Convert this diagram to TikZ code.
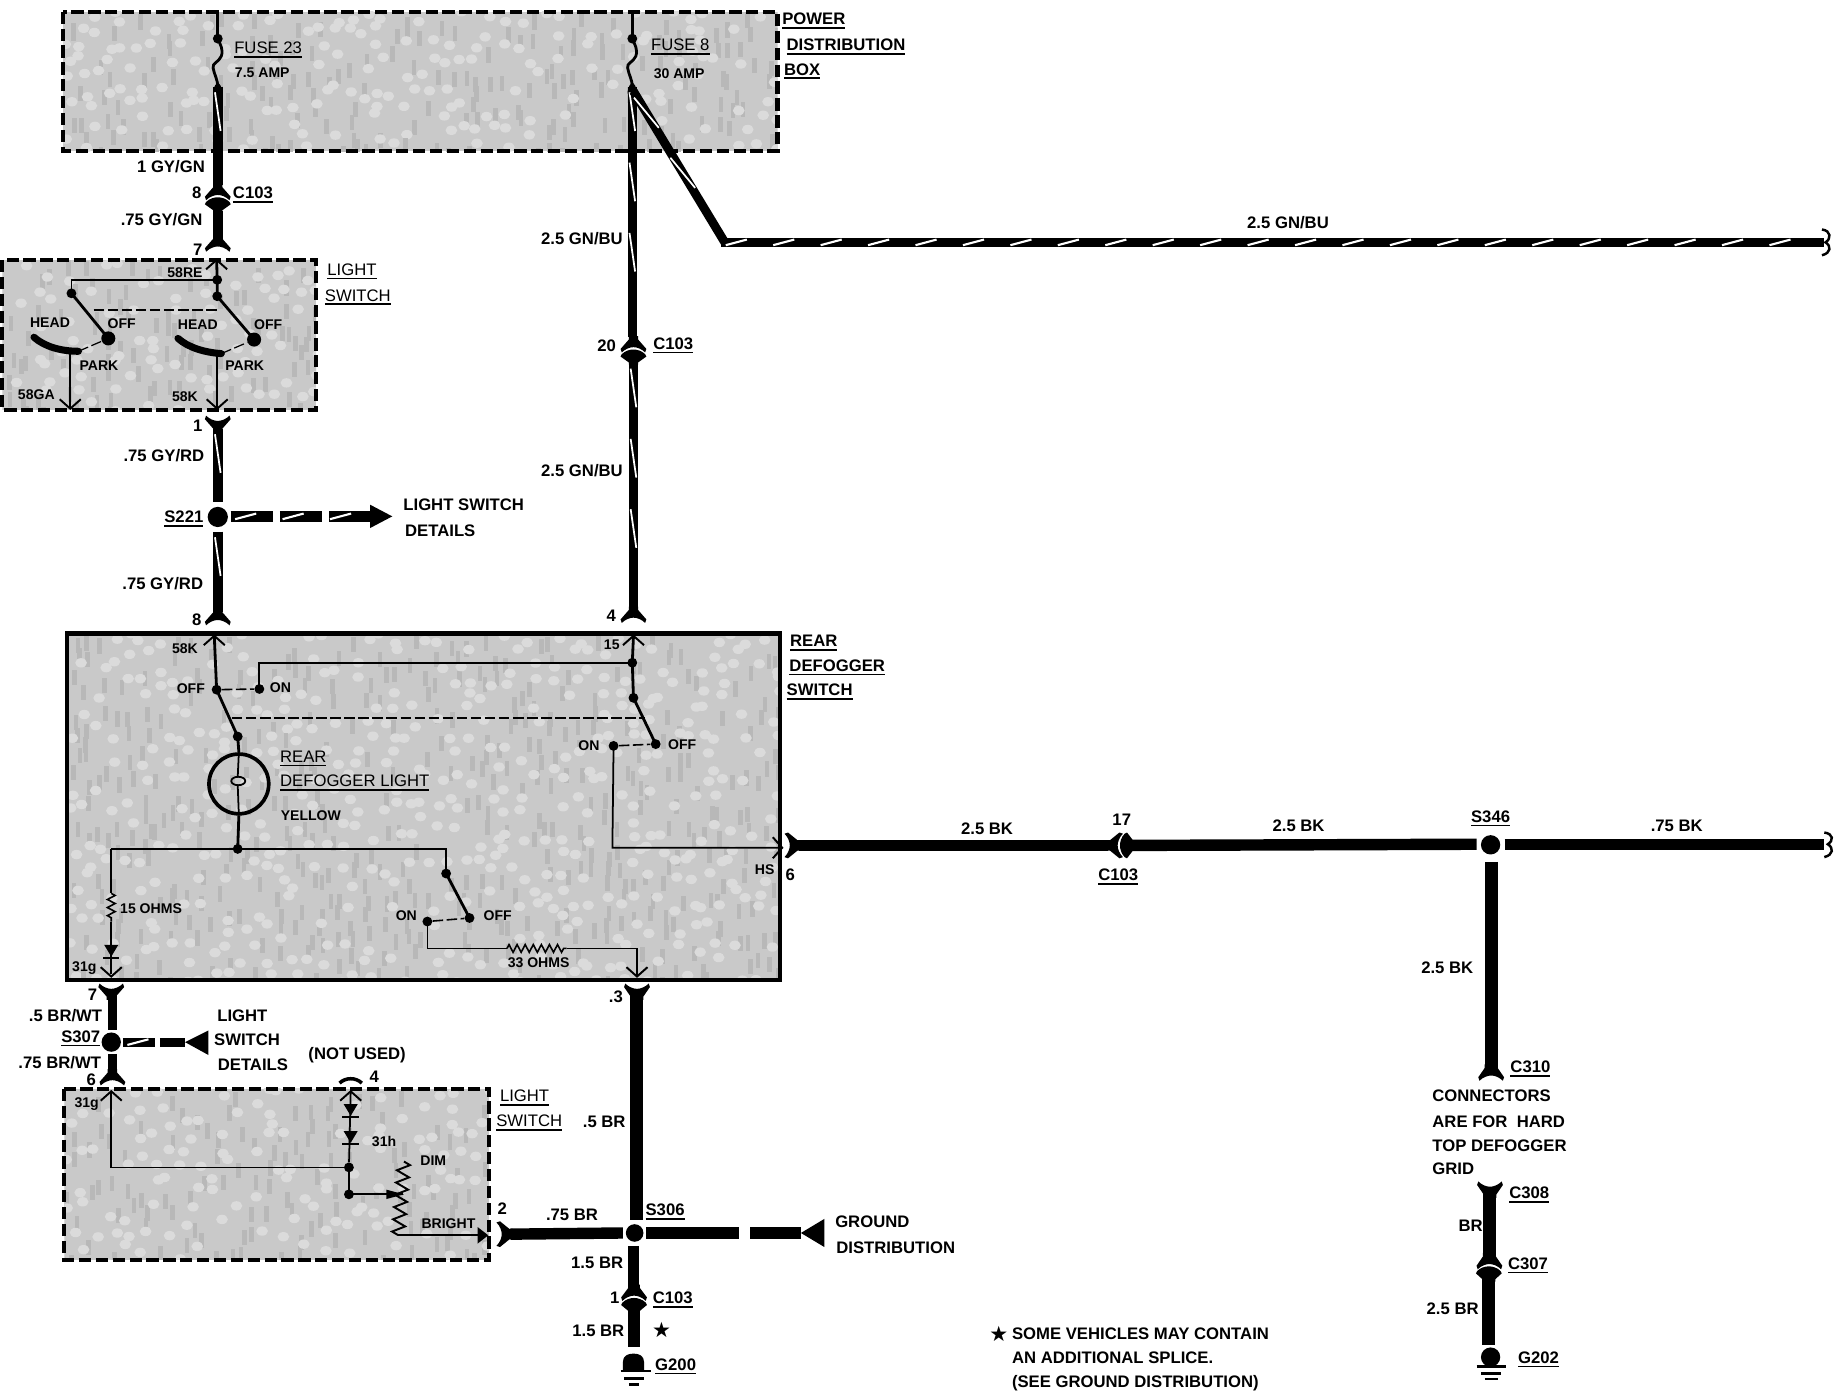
\documentclass[tikz,border=0pt]{standalone}
\usepackage{fontspec}
\setmainfont{Liberation Sans}
\newfontfamily\symfont{DejaVu Sans}
\usetikzlibrary{decorations.markings,decorations.pathmorphing}
\tikzset{
  lab/.style={inner sep=0pt,anchor=center,text height=6.8pt,text depth=0pt,font=\bfseries\fontsize{9.5}{11}\selectfont},
  slab/.style={inner sep=0pt,anchor=center,text height=5.7pt,text depth=0pt,font=\fontsize{8}{10}\selectfont\bfseries},
  wire/.style={line width=5.4pt},
  wirebk/.style={line width=6.5pt},
  tr/.style={postaction=decorate,decoration={markings,mark=between positions 0.5cm and -0.3cm step 40pt with {\draw[white,line width=1pt] (-11pt,-1.6pt)--(11pt,1.6pt);}}},
  trh/.style={postaction=decorate,decoration={markings,mark=between positions 0.3cm and -0.2cm step 27pt with {\draw[white,line width=1.2pt] (-6pt,-1.6pt)--(6pt,1.6pt);}}},
  thinw/.style={line width=1pt},
  medw/.style={line width=1.6pt},
  dlink/.style={line width=.9pt,dash pattern=on 6pt off 2pt},
  boxd/.style={line width=2.3pt,dash pattern=on 7pt off 2.6pt},
  dot/.style={circle,fill=black,inner sep=0pt,minimum size=5.6pt},
  splice/.style={circle,fill=black,inner sep=0pt,minimum size=11.5pt},
  res/.style={line width=.9pt,decorate,decoration={zigzag,amplitude=2.2pt,segment length=4.6pt}},
  pics/flare/.style={code={\fill (-#1,-12) -- (-#1,-9) -- (-11,-1) -- (-10,2) .. controls (-7,-1) and (-3,-2.5) .. (0,-2.5) .. controls (3,-2.5) and (7,-1) .. (10,2) -- (11,-1) -- (#1,-9) -- (#1,-12) -- cycle;}},
  pics/dome/.style={code={\fill (-#1,13) -- (-#1,11) -- (-11,6) -- (-10,4) .. controls (-7,1) and (-3,0) .. (0,0) .. controls (3,0) and (7,1) .. (10,4) -- (11,6) -- (#1,11) -- (#1,13) -- cycle;}},
  pics/chev/.style={code={\draw[line width=1.1pt] (-9,8)--(0,0)--(9,8);}},
  pics/diode/.style={code={\fill (-6,0)--(6,0)--(0,10)--cycle;\draw[line width=1.3pt] (-7,11)--(7,11);}}
}
\newcommand\lab[5][]{\node[lab,#1] (#2) at (#3,#4) {#5};}
\newcommand\slb[5][]{\node[slab,#1] (#2) at (#3,#4) {#5};}
\newcommand\ulin[1]{\vtop{\hbox{#1}\kern1.3pt\hrule height 1pt}}
% shaded ground: x1 y1 x2 y2 seed
\newcommand\texturebox[5]{%
  \begin{scope}
  \clip (#1,#2) rectangle (#3,#4);
  \fill[gray!42] (#1,#2) rectangle (#3,#4);
  \pgfmathsetseed{#5}
  \pgfmathtruncatemacro\nx{(#3-#1)/12}
  \pgfmathtruncatemacro\ny{(#4-#2)/12}
  \foreach \ix in {0,...,\nx}{\foreach \iy in {0,...,\ny}{
    \pgfmathsetmacro\hx{#1+12*\ix+rnd*10}\pgfmathsetmacro\hy{#2+12*\iy+rnd*10}\pgfmathsetmacro\hk{rnd}
    \ifdim\hk pt<0.35pt \fill[gray!28] (\hx,\hy) ellipse (5 and 4);\else\ifdim\hk pt<0.7pt \fill[gray!56] (\hx,\hy) rectangle +(4,13);\fi\fi
  }}
  \end{scope}}
\begin{document}
\begin{tikzpicture}[x=0.023418cm,y=-0.023418cm,line join=miter]
\useasboundingbox[fill=white] (0,0) rectangle (1568,1189);
% ---- shaded boxes
\texturebox{54}{10}{664}{129}{11}
\texturebox{2}{222}{270}{350}{23}
\texturebox{57}{541}{666}{837}{37}
\texturebox{55}{930}{418}{1076}{41}
\draw[boxd] (54,10) rectangle (664,129);
\draw[boxd] (2,222) rectangle (270,350);
\draw[line width=2.5pt] (57,541) rectangle (666,837);
\draw[boxd] (55,930) rectangle (418,1076);

% ---- fuses
\coordinate (f23t) at (186,10); \node[dot] (f23a) at (186,33) {};
\coordinate (f23b) at (186,74);
\draw[medw] (f23t) -- (f23a.center);
\draw[medw] (f23a.center) .. controls (188,38) and (191,42) .. (189,48) .. controls (187,53) and (181,54) .. (182,58) .. controls (183,64) and (186,68) .. (f23b);
\coordinate (f8t) at (540,10); \node[dot] (f8a) at (540,33) {};
\coordinate (f8b) at (540,74);
\draw[medw] (f8t) -- (f8a.center);
\draw[medw] (f8a.center) .. controls (542,38) and (545,42) .. (543,48) .. controls (541,53) and (535,54) .. (536,58) .. controls (537,64) and (540,68) .. (f8b);

% ---- GY wire, top
\coordinate (w1a) at (186,74); \coordinate (w1b) at (186,158);
\fill (186,70) .. controls (190,74) and (190,78) .. (190,80) -- (182,80) .. controls (182,78) and (182,74) .. (186,70) -- cycle;
\draw[wire,tr] (w1a) -- (w1b);
\pic at (186,169) {flare=4};
\pic at (186,168.5) {dome=4};
\coordinate (w2a) at (186,180); \coordinate (w2b) at (186,204);
\draw[wire,tr] (w2a) -- (w2b);
\pic at (186,213) {flare=4};
% ---- light switch internals
\pic at (185,222) {chev};
\node[dot] (ls1) at (185.5,239) {};
\node[dot] (ls2) at (185.5,253) {};
\node[dot] (ls3) at (61,250.5) {};
\node[dot,minimum size=8pt] (ls4) at (92.5,289) {};
\node[dot,minimum size=8pt] (ls5) at (217,290) {};
\coordinate (lsa) at (185,222); \coordinate (lsc) at (61,239);
\draw[medw] (lsa) -- (ls1.center) -- (ls2.center);
\draw[thinw] (ls1.center) -- (lsc) -- (ls3.center);
\draw[medw] (ls3.center) -- (ls4.center);
\draw[medw] (ls2.center) -- (ls5.center);
\coordinate (lk1) at (80,265); \coordinate (lk2) at (188,265);
\draw[dlink] (lk1) -- (lk2);
\coordinate (hd1) at (29,288); \coordinate (hd2) at (67,300);
\coordinate (hd3) at (152,289); \coordinate (hd4) at (189,302);
\draw[line width=4pt,line cap=round] (hd1) .. controls (38,296) and (52,300) .. (hd2);
\draw[line width=4pt,line cap=round] (hd3) .. controls (161,297) and (175,301) .. (hd4);
\draw[dlink,line width=.7pt] (hd2) -- (ls4);
\draw[dlink,line width=.7pt] (hd4) -- (ls5);
\coordinate (ls58ga) at (60,349); \coordinate (ls58k) at (185.5,349);
\draw[thinw] (60,300) -- (ls58ga);
\draw[thinw] (185.5,300) -- (ls58k);
\pic[rotate=180] at (60,349) {chev};
\pic[rotate=180] at (185.5,349) {chev};
% ---- GY/RD
\pic[rotate=180] at (186,357) {flare=4};
\node[splice] (s221) at (186,441.5) {};
\coordinate (c1t) at (186,366); \coordinate (c1b) at (186,429);
\draw[wire,tr] (c1t) -- (c1b);
\coordinate (c8t) at (186,454); \coordinate (c8b) at (186,523);
\draw[wire,tr] (c8t) -- (c8b);
\pic at (186,532) {flare=4};
\coordinate (ads) at (197,441); \coordinate (adt) at (316,441);
\draw[line width=6.4pt,dash pattern=on 24pt off 4pt,trh] (ads) -- (adt);
\fill (335,441) -- (316,431) -- (316,451) -- cycle;
% ---- GN/BU main
\coordinate (gb0) at (540,74); \coordinate (gb1) at (540,288);
\fill (540,70) .. controls (544,74) and (544,78) .. (544,80) -- (536,80) .. controls (536,78) and (536,74) .. (540,70) -- cycle;
\draw[wire,tr] (gb0) -- (gb1);
\pic at (541,299) {flare=4};
\pic at (541,298.5) {dome=4};
\coordinate (gb2) at (541,310); \coordinate (gb3) at (541,520);
\draw[wire,tr] (gb2) -- (gb3);
\pic at (541,530) {flare=4};
\coordinate (gbd) at (541,78); \coordinate (gbc) at (619,207); \coordinate (gbe) at (1558,207);
\draw[line width=5pt,tr] (gbd) -- (gbc);
\draw[line width=5.2pt,trh] (616,207) -- (gbe);
\draw[line width=1.4pt] (1556,196) .. controls (1564,197) and (1564,204) .. (1559,207) .. controls (1564,210) and (1564,216) .. (1556,218);
% ---- rear defogger internals
\pic at (183,543) {chev};
\node[dot] (rd1) at (185,589) {};
\node[dot] (rd2) at (203,629) {};
\node[dot] (rd3) at (221.5,588.4) {};
\node[dot] (rd4) at (540,566) {};
\node[dot] (rd5) at (541,596) {};
\node[dot] (rd6) at (560,635.5) {};
\node[dot] (rd7) at (524,637) {};
\node[dot] (rd8) at (203,725) {};
\node[dot] (rd9) at (381,746) {};
\node[dot] (rd10) at (401,784) {};
\node[dot] (rd11) at (365,787) {};
\coordinate (rdt) at (183,543); \coordinate (rdt2) at (541,543);
\draw[medw] (rdt) -- (rd1.center) -- (rd2.center);
\draw[dlink] (rd1) -- (rd3);
\coordinate (rdc) at (221.5,566);
\draw[thinw] (rd3.center) -- (rdc) -- (rd4.center);
\pic at (541,543) {chev};
\draw[medw] (rdt2) -- (rd4.center) -- (rd5.center) -- (rd6.center);
\draw[dlink] (rd7) -- (rd6);
\coordinate (rdl1) at (198,613); \coordinate (rdl2) at (551,613);
\draw[dlink] (rdl1) -- (rdl2);
\coordinate (hsc) at (523,724); \coordinate (hse) at (668,724);
\draw[thinw] (rd7.center) -- (hsc) -- (hse);
\pic[rotate=-90] at (668,724) {chev};
% lamp
\node[circle,draw,line width=2.1pt,minimum size=34pt,inner sep=0pt] (lamp) at (204,669.5) {};
\draw[medw] (rd2.center) -- (lamp.north);
\draw[medw] (lamp.south) -- (rd8.center);
\draw[thinw] (lamp.north) -- (203,664);
\draw[thinw] (203.5,667) ellipse (6 and 3.6);
\draw[thinw] (203,670) -- (lamp.south);
% lower left in box
\coordinate (rl) at (95,725); \coordinate (rs) at (381,725);
\draw[thinw] (rd8.center) -- (rl);
\draw[thinw] (rd8.center) -- (rs) -- (rd9.center);
\draw[medw] (rd9.center) -- (rd10.center);
\draw[dlink] (rd11) -- (rd10);
\coordinate (r1a) at (95,763); \coordinate (r1b) at (95,787); \coordinate (r1c) at (95,832);
\draw[thinw] (rl) -- (r1a);
\draw[res] (r1a) -- (r1b);
\draw[thinw] (r1b) -- (r1c);
\pic at (95,807) {diode};
\pic[rotate=180] at (95,834) {chev};
\coordinate (r2a) at (365,810); \coordinate (r2b) at (433,810); \coordinate (r2c) at (484,810); \coordinate (r2d) at (544,810); \coordinate (r2e) at (544,834);
\draw[thinw] (rd11.center) -- (r2a) -- (r2b);
\draw[res] (r2b) -- (r2c);
\draw[thinw] (r2c) -- (r2d) -- (r2e);
\pic[rotate=180] at (544,834) {chev};
% ---- right side BK
\pic[rotate=-90] at (672,722) {flare=4.5};
\coordinate (bk1) at (682,722); \coordinate (bk2) at (946,722);
\draw[wirebk] (bk1) -- (bk2);
\pic[rotate=90] at (957,722) {flare=4.5};
\pic[rotate=90] at (956.5,722) {dome=4.5};
\node[splice,minimum size=11pt] (s346) at (1273,721.5) {};
\coordinate (bk3) at (967,722); \coordinate (bk4) at (1261,721);
\draw[wirebk] (bk3) -- (bk4);
\coordinate (bk5) at (1285,721); \coordinate (bke) at (1558,721);
\draw[wirebk] (bk5) -- (bke);
\draw[line width=1.4pt] (1558,711) .. controls (1566,712) and (1566,718) .. (1561,721) .. controls (1566,724) and (1566,730) .. (1558,732);
\coordinate (c310t) at (1273.5,736); \coordinate (c310) at (1273.5,912);
\draw[line width=7.4pt] (c310t) -- (c310);
\pic at (1273.5,921) {flare=5.5};
\pic[rotate=180] at (1272.5,1011) {flare=5.5};
\coordinate (c308) at (1272,1018); \coordinate (c307) at (1272,1071);
\draw[line width=7.4pt] (c308) -- (c307);
\pic at (1272,1082) {flare=5.5};
\pic at (1271.5,1081.5) {dome=5.5};
\coordinate (c307b) at (1271.5,1092); \coordinate (g202c) at (1271.5,1149);
\draw[line width=7.4pt] (c307b) -- (g202c);
\node[circle,fill=black,inner sep=0pt,minimum size=11pt] (g202) at (1273,1159) {};
\draw[line width=1.3pt] (1261,1167) -- (1286,1167) (1265,1173) -- (1282,1173) (1268,1178) -- (1279,1178);
% ---- BR/WT
\pic[rotate=180] at (95,842) {flare=4};
\node[splice,minimum size=11pt] (s307) at (95,890) {};
\coordinate (bw1) at (96,850); \coordinate (bw1b) at (96,880);
\draw[line width=5.4pt,tr] (bw1) -- (bw1b);
\coordinate (bw2a) at (96,900); \coordinate (bw2) at (96,917);
\draw[line width=5.4pt,tr] (bw2a) -- (bw2);
\pic at (96,925) {flare=4};
\coordinate (bw0) at (105,890); \coordinate (bw3) at (158,890);
\draw[line width=5.2pt,dash pattern=on 18pt off 3pt,trh] (bw0) -- (bw3);
\fill (158,890) -- (178,880) -- (178,901) -- cycle;
% ---- light switch lower
\pic at (95,932) {chev};
\coordinate (l2t) at (95,932); \coordinate (l2c) at (95,997);
\node[dot] (l2d) at (298,997) {};
\node[dot] (l2e) at (298,1020) {};
\draw[thinw] (l2t) -- (l2c) -- (l2d.center) -- (l2e.center);
\draw[line width=2pt] (290,925) .. controls (295,920) and (304,920) .. (309,925);
\pic at (299.5,932) {chev};
\coordinate (l3t) at (299.5,932);
\draw[thinw] (l3t) -- (l2d);
\pic at (299.5,943) {diode};
\pic at (299.5,966) {diode};
\coordinate (l4r) at (344,1020);
\draw[thinw] (l2e.center) -- (l4r);
\fill (345,1020) -- (330,1016) -- (330,1024) -- cycle;
\coordinate (r3a) at (345,992); \coordinate (r3b) at (340,1055);
\draw[res,line width=1.1pt,decoration={zigzag,amplitude=3.6pt,segment length=7pt}] (r3a) -- (r3b);
\coordinate (l5e) at (411,1055);
\draw[thinw] (r3b) -- (l5e);
\fill (417,1055) -- (408,1048) -- (408,1062) -- cycle;
% ---- BR
\pic[rotate=-90] at (426,1054) {flare=4.5};
\node[splice,minimum size=10pt] (s306) at (542,1053) {};
\coordinate (br1) at (436,1054); \coordinate (br1b) at (532,1053);
\draw[wirebk] (br1) -- (br1b);
\pic[rotate=180] at (544,842) {flare=5.5};
\coordinate (br3) at (544,850); \coordinate (br3b) at (544,1042);
\draw[line width=7.4pt] (br3) -- (br3b);
\coordinate (gd0) at (552,1053); \coordinate (gd1) at (684,1053);
\draw[wirebk,dash pattern=on 53pt off 6pt] (gd0) -- (gd1);
\fill (684,1053) -- (704,1041) -- (704,1065) -- cycle;
\coordinate (br4a) at (541,1064); \coordinate (br4) at (541,1097);
\draw[line width=6.6pt] (br4a) -- (br4);
\pic at (541.5,1109) {flare=5};
\pic at (541.5,1108.5) {dome=5};
\coordinate (br5) at (541.5,1120); \coordinate (g200c) at (541.5,1150);
\draw[line width=6.6pt] (br5) -- (g200c);
\node[inner sep=0pt] (g200) at (541,1163) {};
\fill (532,1170) -- (532,1163) .. controls (532,1158) and (536,1156) .. (541,1156) .. controls (546,1156) and (550,1158) .. (550,1163) -- (550,1170) -- cycle;
\draw[line width=1.5pt] (530,1171) -- (556,1171) (533,1177) -- (550,1177) (537,1182.5) -- (546,1182.5);

% ---- labels, power box
\lab{t1}{229}{40.5}{\ulin{\mdseries FUSE 23}}
\slb{t2}{224}{62}{7.5 AMP}
\lab{t3}{581}{38}{\ulin{\mdseries FUSE 8}}
\slb{t4}{580}{62.5}{30 AMP}
\lab{t5}{695}{16}{\ulin{POWER}}
\lab{t6}{722.5}{38}{\ulin{DISTRIBUTION}}
\lab{t7}{685}{59}{\ulin{BOX}}
\lab{t8}{146}{142.6}{1 GY/GN}
\lab{t9}{168}{164.6}{8}
\lab{t10}{216}{164.6}{\ulin{C103}}
\lab{t11}{138}{187.6}{.75 GY/GN}
\lab{t12}{169}{213}{7}
\lab{t13}{300.6}{230}{\ulin{\mdseries LIGHT}}
\lab{t14}{305.6}{252}{\ulin{\mdseries SWITCH}}
\lab{t15}{497}{204}{2.5 GN/BU}
\lab{t16}{497}{402}{2.5 GN/BU}
\lab{t17}{518}{295}{20}
\lab{t18}{575}{293}{\ulin{C103}}
\lab{t19}{1100}{190}{2.5 GN/BU}
\slb{t20}{158}{233}{58RE}
\slb{t21}{42.7}{275.6}{HEAD}
\slb{t22}{104}{276}{OFF}
\slb{t23}{169}{277}{HEAD}
\slb{t24}{229}{277}{OFF}
\slb{t25}{84.5}{312}{PARK}
\slb{t26}{209}{312}{PARK}
\slb{t27}{31}{337}{58GA}
\slb{t28}{158}{339}{58K}
\lab{t29}{169}{363}{1}
\lab{t30}{140}{389}{.75 GY/RD}
\lab{t31}{157}{441}{\ulin{S221}}
\lab{t32}{396}{431}{LIGHT SWITCH}
\lab{t33}{376}{453}{DETAILS}
\lab{t34}{139}{498.5}{.75 GY/RD}
\lab{t35}{168}{529}{8}
\lab{t36}{522}{526}{4}
\slb{t37}{158}{553.5}{58K}
\slb{t38}{522.5}{550.5}{15}
\slb{t39}{163}{588.4}{OFF}
\slb{t40}{239.5}{587}{ON}
\slb{t41}{503}{637}{ON}
\slb{t42}{582.6}{636}{OFF}
\lab{t43}{259}{646}{\ulin{\mdseries REAR}}
\lab{t44}{303}{667}{\ulin{\mdseries DEFOGGER LIGHT}}
\slb{t45}{265.5}{696.5}{YELLOW}
\lab{t46}{695}{547}{\ulin{REAR}}
\lab{t47}{715}{568}{\ulin{DEFOGGER}}
\lab{t48}{700}{589}{\ulin{SWITCH}}
\slb{t49}{653}{742.7}{HS}
\lab{t50}{675}{747}{6}
\slb{t51}{129}{775.5}{15 OHMS}
\slb{t52}{425}{782}{OFF}
\slb{t53}{347}{782}{ON}
\slb{t54}{460}{822}{33 OHMS}
\slb{t55}{72}{825}{31g}
\lab{t56}{79}{849}{7}
\lab{t57}{526}{851}{.3}
\lab{t58}{56}{867}{.5 BR/WT}
\lab{t59}{69}{885}{\ulin{S307}}
\lab{t60}{51}{907}{.75 BR/WT}
\lab{t61}{78}{922}{6}
\lab{t62}{207}{867}{LIGHT}
\lab{t63}{211}{888}{SWITCH}
\lab{t64}{216}{909}{DETAILS}
\lab{t65}{305}{900}{(NOT USED)}
\lab{t66}{319.6}{919.7}{4}
\slb{t67}{74}{941.6}{31g}
\slb{t68}{328}{975}{31h}
\slb{t69}{370}{991}{DIM}
\slb{t70}{383}{1045}{BRIGHT}
\lab{t71}{448}{936}{\ulin{\mdseries LIGHT}}
\lab{t72}{452}{957}{\ulin{\mdseries SWITCH}}
\lab{t73}{516}{957.5}{.5 BR}
\lab{t74}{429}{1032}{2}
\lab{t75}{488.5}{1037.5}{.75 BR}
\lab{t76}{568}{1033}{\ulin{S306}}
\lab{t77}{745}{1043}{GROUND}
\lab{t78}{765}{1065}{DISTRIBUTION}
\lab{t79}{510}{1078}{1.5 BR}
\lab{t80}{525}{1108}{1}
\lab{t81}{574.6}{1108}{\ulin{C103}}
\lab{t82}{511}{1136}{1.5 BR}
\node[inner sep=0pt,font=\symfont\fontsize{12}{14}\selectfont] (t83) at (565,1136) {★};
\lab{t84}{577}{1165}{\ulin{G200}}
\lab{t85}{843}{708}{2.5 BK}
\lab{t86}{958}{700}{17}
\lab{t87}{955}{747}{\ulin{C103}}
\lab{t88}{1109}{705}{2.5 BK}
\lab{t89}{1273}{697}{\ulin{S346}}
\lab{t90}{1432}{705}{.75 BK}
\lab{t91}{1236}{826.7}{2.5 BK}
\lab{t92}{1307}{911}{\ulin{C310}}
\lab[anchor=west]{t93}{1223}{936}{CONNECTORS}
\lab[anchor=west]{t94}{1223}{957.7}{ARE FOR\ \ HARD}
\lab[anchor=west]{t95}{1223}{978}{TOP DEFOGGER}
\lab[anchor=west]{t96}{1223}{997.7}{GRID}
\lab{t97}{1306}{1018.7}{\ulin{C308}}
\lab{t98}{1256}{1047}{BR}
\lab{t99}{1305}{1078.7}{\ulin{C307}}
\lab{t100}{1240.6}{1117.7}{2.5 BR}
\lab{t101}{1314}{1159}{\ulin{G202}}
\node[inner sep=0pt,font=\symfont\fontsize{12}{14}\selectfont] (t102) at (853,1139) {★};
\lab[anchor=west]{t103}{864}{1139}{SOME VEHICLES MAY CONTAIN}
\lab[anchor=west]{t104}{864}{1159}{AN ADDITIONAL SPLICE.}
\lab[anchor=west]{t105}{864}{1180}{(SEE GROUND DISTRIBUTION)}
\end{tikzpicture}
\end{document}
